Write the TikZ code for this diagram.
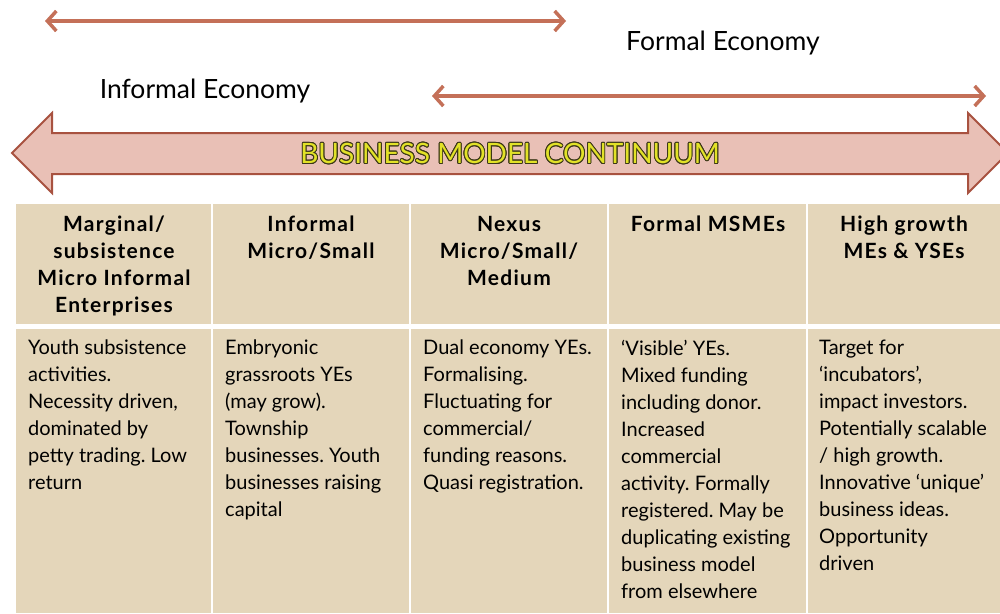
\documentclass[tikz,border=0pt]{standalone}
\usepackage{fontspec}
\setmainfont{Lato}
\usepackage{contour}
\usetikzlibrary{arrows.meta}
\frenchspacing
\definecolor{arrowc}{RGB}{196,112,88}
\definecolor{blockfill}{RGB}{233,192,182}
\definecolor{blockline}{RGB}{168,82,64}
\definecolor{cellbg}{RGB}{228,214,186}
\definecolor{titleyellow}{RGB}{226,226,40}
\definecolor{titleline}{RGB}{60,56,24}
\contourlength{0.9pt}
\tikzset{
  econarrow/.style={draw=arrowc, line width=3.5pt,
    {Straight Barb[length=9pt,width=20pt]}-{Straight Barb[length=9pt,width=20pt]}},
  eclabel/.style={font=\fontsize{26.5}{30}\selectfont, text=black, inner sep=0pt},
  cell/.style={fill=cellbg, draw=none},
  hdr/.style={anchor=north, align=center, inner sep=0pt,
    font=\bfseries\fontsize{21}{27}\selectfont\addfontfeature{LetterSpace=6}},
  body/.style={anchor=north west, align=left, inner sep=0pt,
    font=\fontsize{20}{27}\selectfont},
}
\begin{document}
\begin{tikzpicture}[x=1pt,y=-1pt]
\useasboundingbox (0,0) rectangle (1000,613);
\clip (0,0) rectangle (1000,613);
\fill[white] (0,0) rectangle (1000,613);

% economy arrows
\coordinate (a1l) at (45,21);
\coordinate (a1r) at (566,21);
\coordinate (a2l) at (432,96);
\coordinate (a2r) at (986,96);
\draw[econarrow] (a1l) -- (a1r);
\draw[econarrow] (a2l) -- (a2r);
\node[eclabel] (formal) at (723,43) {Formal Economy};
\node[eclabel] (informal) at (205,91) {Informal Economy};

% block arrow
\draw[fill=blockfill, draw=blockline, line width=2pt, line join=miter]
  (12,153) -- (52,113) -- (52,133) -- (968,133) -- (968,113) -- (1008,153)
  -- (968,193) -- (968,174) -- (52,174) -- (52,193) -- cycle;
\node[inner sep=0pt, font=\fontsize{28}{30}\selectfont] (title) at (510,154)
  {\contour{titleline}{\textcolor{titleyellow}{BUSINESS MODEL CONTINUUM}}};

% table cells
\foreach \xa/\xb in {16/211, 213/409, 411/607, 609/806, 808/1000} {
  \fill[cell] (\xa,204) rectangle (\xb,324);
  \fill[cell] (\xa,329) rectangle (\xb,613);
}

% headers
\node[hdr] (h1) at (114,216) {Marginal/\\subsistence\\Micro Informal\\Enterprises};
\node[hdr] (h2) at (311,216) {Informal\\Micro/Small};
\node[hdr] (h3) at (509,216) {Nexus\\Micro/Small/\\Medium};
\node[hdr] (h4) at (708,216) {Formal MSMEs};
\node[hdr] (h5) at (904,216) {High growth\\MEs \& YSEs};

% bodies
\node[body] (b1) at (28,340) {Youth subsistence\\activities.\\Necessity driven,\\dominated by\\petty trading. Low\\return};
\node[body] (b2) at (225,340) {Embryonic\\grassroots YEs\\(may grow).\\Township\\businesses. Youth\\businesses raising\\capital};
\node[body] (b3) at (423,340) {Dual economy YEs.\\Formalising.\\Fluctuating for\\commercial/\\funding reasons.\\Quasi registration.};
\node[body] (b4) at (621,340) {‘Visible’ YEs.\\Mixed funding\\including donor.\\Increased\\commercial\\activity. Formally\\registered. May be\\duplicating existing\\business model\\from elsewhere};
\node[body] (b5) at (819,340) {Target for\\‘incubators’,\\impact investors.\\Potentially scalable\\/ high growth.\\Innovative ‘unique’\\business ideas.\\Opportunity\\driven};
\end{tikzpicture}
\end{document}
